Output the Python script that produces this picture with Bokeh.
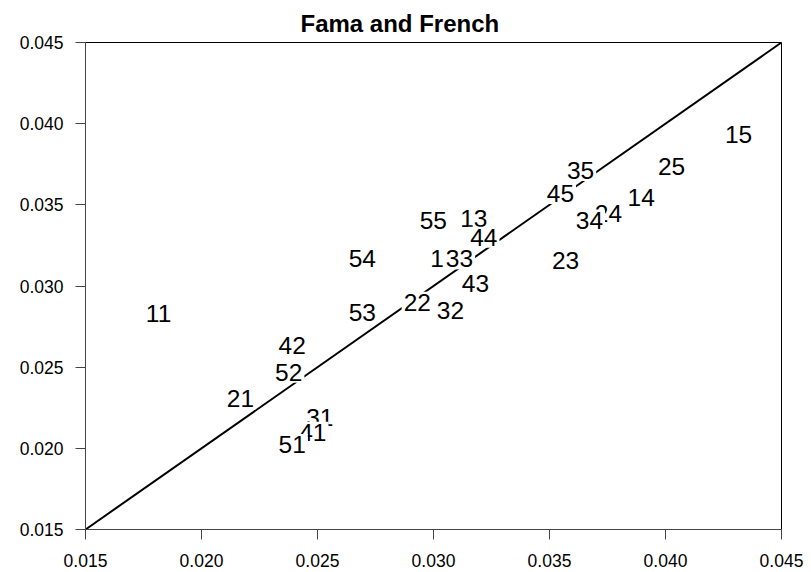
from bokeh.plotting import figure
from bokeh.models import Range1d, FixedTicker, NumeralTickFormatter, ColumnDataSource
from bokeh.core.properties import value
from bokeh.embed import file_html
from bokeh.resources import INLINE

# Portfolio labels (size/book-to-market) and their coordinates
labels = ["11", "12", "13", "14", "15",
          "21", "22", "23", "24", "25",
          "31", "32", "33", "34", "35",
          "41", "42", "43", "44", "45",
          "51", "52", "53", "54", "55"]
x_vals = [0.01815, 0.03045, 0.03174, 0.03895, 0.04315,
          0.02168, 0.02930, 0.03569, 0.03754, 0.04026,
          0.02510, 0.03073, 0.03112, 0.03672, 0.03634,
          0.02480, 0.02391, 0.03181, 0.03217, 0.03547,
          0.02391, 0.02376, 0.02693, 0.02693, 0.02999]
y_vals = [0.02831, 0.03168, 0.03414, 0.03547, 0.03933,
          0.02305, 0.02900, 0.03157, 0.03447, 0.03736,
          0.02192, 0.02849, 0.03168, 0.03404, 0.03712,
          0.02099, 0.02633, 0.03014, 0.03301, 0.03570,
          0.02024, 0.02469, 0.02839, 0.03168, 0.03404]

line_x = [0.015, 0.045]
line_y = [0.015, 0.045]
ticks = [0.015, 0.020, 0.025, 0.030, 0.035, 0.040, 0.045]

FONT = "Liberation Sans"

p = figure(width=811, height=572,
           x_range=Range1d(0.015, 0.045), y_range=Range1d(0.015, 0.045),
           output_backend="svg", toolbar_location=None,
           min_border_left=85, min_border_right=30,
           min_border_top=42, min_border_bottom=43,
           title="Fama and French")

p.title.text_font = FONT
p.title.text_font_size = "24px"
p.title.text_font_style = "bold"
p.title.text_color = "black"
p.title.align = "left"
p.title.offset = 215
p.title.standoff = 12

p.xgrid.visible = False
p.ygrid.visible = False
p.outline_line_color = "black"
p.outline_line_width = 1

for ax in (p.xaxis[0], p.yaxis[0]):
    ax.ticker = FixedTicker(ticks=ticks)
    ax.formatter = NumeralTickFormatter(format="0.000")
    ax.minor_tick_line_color = None
    ax.major_tick_in = 0
    ax.major_tick_out = 10
    ax.axis_line_color = "#444444"
    ax.major_tick_line_color = "#444444"
    ax.major_label_text_font = FONT
    ax.major_label_text_font_size = "17.5px"
    ax.major_label_text_color = "black"
    ax.major_label_text_line_height = 1.0

p.yaxis[0].major_label_standoff = 12
p.xaxis[0].major_label_standoff = 14

p.line(line_x, line_y, line_color="black", line_width=2)

src = ColumnDataSource(dict(x=x_vals, y=y_vals, t=labels))
p.text(x="x", y="y", text="t", source=src,
       text_font=value(FONT), text_font_size="24.5px",
       text_align="center", text_baseline="middle", text_color="black",
       background_fill_color="white", padding=2)

open("out.html", "w").write(file_html(p, INLINE))
